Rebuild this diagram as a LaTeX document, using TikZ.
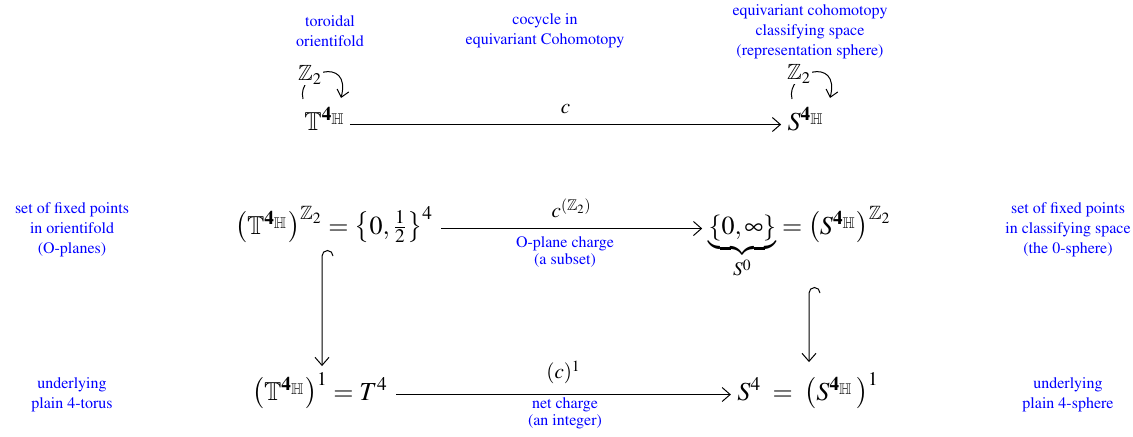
\documentclass[tikz,border=0pt]{standalone}
\usepackage[T1]{fontenc}
\usepackage{amsmath,amssymb}
\usepackage{mathptmx}
\usetikzlibrary{arrows.meta}
\newcommand{\TorH}{\mathbb{T}^{\mathbf{4}_{\mathbb{H}}}}
\newcommand{\SphH}{S^{\mathbf{4}_{\mathbb{H}}}}
\begin{document}
\begin{tikzpicture}[x=0.5pt,y=-0.5pt,
  note/.style={font=\fontsize{8}{10}\selectfont, text=blue, align=center, inner sep=0pt},
  unote/.style={font=\fontsize{8}{8.6}\selectfont, text=blue, align=center, inner sep=0pt},
  mth/.style={font=\fontsize{13}{15}\selectfont, inner sep=0pt, anchor=base},
  lab/.style={font=\fontsize{10.5}{12}\selectfont, inner sep=0pt, anchor=base},
  zlab/.style={font=\fontsize{11}{13}\selectfont, inner sep=0.3pt, fill=white},
  arr/.style={-{Straight Barb[length=4pt,width=7pt]}, line width=0.5pt},
  loopa/.style={-{Straight Barb[length=3.5pt,width=6pt]}, line width=0.5pt}]
\useasboundingbox (0,0) rectangle (1133,436);
% notes
\node[note] (tor) at (330,31) {toroidal\\orientifold};
\node[note] (coc) at (545,31) {cocycle in\\equivariant Cohomotopy};
\node[note] (ecs) at (810,32) {equivariant cohomotopy\\classifying space\\(representation sphere)};
\node[note] (fixL) at (72,230) {set of fixed points\\in orientifold\\(O-planes)};
\node[note] (fixR) at (1068,230) {set of fixed points\\in classifying space\\(the 0-sphere)};
\node[note] (undL) at (72,395) {underlying\\plain 4-torus};
\node[note] (undR) at (1068,395) {underlying\\plain 4-sphere};
\node[unote] (opl) at (565,252) {O-plane charge\\(a subset)};
\node[unote] (net) at (565,413) {net charge\\(an integer)};
% row 1
\node[mth] (T) at (325,130) {$\TorH$};
\node[mth] (S) at (806,130) {$\SphH$};
\draw[arr] ([yshift=0.5pt,xshift=2pt]T.mid east) -- node[lab, above=5pt]{$c$} ([yshift=0.5pt,xshift=-3pt]S.mid west);
% loops
\coordinate (l1s) at (303,99);
\coordinate (l1e) at (341,98);
\draw[loopa] (l1s) .. controls (296,72) and (352,55) .. (l1e);
\node[zlab] (z1) at (310,75) {$\mathbb{Z}_2$};
\coordinate (l2s) at (792,99);
\coordinate (l2e) at (830,98);
\draw[loopa] (l2s) .. controls (785,72) and (841,55) .. (l2e);
\node[zlab] (z2) at (799,74) {$\mathbb{Z}_2$};
% row 2
\node[mth] (A) at (334,234) {$\big(\TorH\big)^{\mathbb{Z}_2} = \big\{0,\tfrac{1}{2}\big\}^4$};
\node[mth] (B) at (800,234) {$\underbrace{\{0,\infty\}}_{S^0} = \big(\SphH\big)^{\mathbb{Z}_2}$};
\draw[arr] ([yshift=0.5pt,xshift=4pt]A.mid east) -- node[lab, above=5pt]{$c^{(\mathbb{Z}_2)}$} ([yshift=0.5pt,xshift=-3pt]B.mid west);
% row 3
\node[mth] (C) at (320,400) {$\big(\TorH\big)^{1} = T^4$};
\node[mth] (D) at (808,400) {$S^4 \;=\; \big(\SphH\,\big)^{1}$};
\draw[arr] ([yshift=0.5pt,xshift=4pt]C.mid east) -- node[lab, above=5pt]{$(c)^1$} ([yshift=0.5pt,xshift=-3pt]D.mid west);
% vertical hooked arrows
\coordinate (lx) at (322,0);
\coordinate (rx) at (809,0);
\coordinate (h1) at (333,256);
\coordinate (h2) at (820,293);
\draw[arr] (h1) arc[start angle=0, end angle=180, radius=2.75pt] -- ([yshift=3pt]C.north -| lx);
\draw[arr] (h2) arc[start angle=0, end angle=180, radius=2.75pt] -- ([yshift=5pt]D.north -| rx);
\end{tikzpicture}
\end{document}
